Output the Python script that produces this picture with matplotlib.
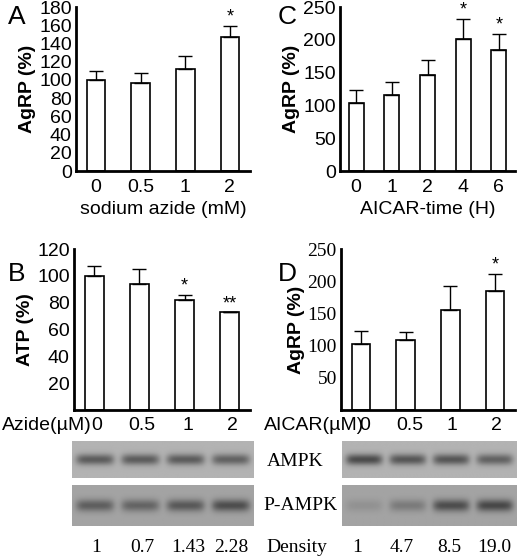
import matplotlib
matplotlib.use("Agg")
import matplotlib.pyplot as plt
import numpy as np

W, H = 520, 558
# data
a_cats = ["0", "0.5", "1", "2"]; a_vals = [100, 97, 112, 147]; a_err = [10, 11, 14, 12]; a_sig = ["", "", "", "*"]
c_cats = ["0", "1", "2", "4", "6"]; c_vals = [103, 116, 146, 201, 185]; c_err = [20, 20, 23, 31, 24]; c_sig = ["", "", "", "*", "*"]
b_cats = ["0", "0.5", "1", "2"]; b_vals = [100, 94, 82, 73]; b_err = [7, 11, 4, 0]; b_sig = ["", "", "*", "**"]
d_cats = ["0", "0.5", "1", "2"]; d_vals = [102, 108, 155, 185]; d_err = [20, 13, 38, 26]; d_sig = ["", "", "", "*"]
b_density = ["1", "0.7", "1.43", "2.28"]
d_density = ["1", "4.7", "8.5", "19.0"]
b_ampk = [0.75, 0.75, 0.75, 0.7]; b_pampk = [0.6, 0.55, 0.65, 0.75]
d_ampk = [0.9, 0.8, 0.8, 0.7]; d_pampk = [0.15, 0.35, 0.75, 0.8]

fig = plt.figure(figsize=(W/100, H/100), dpi=100)
SANS = "Liberation Sans"; SERIF = "Liberation Serif"
FS = 14

def ax_px(x0, y0, x1, y1):
    return fig.add_axes([x0/W, 1-y1/H, (x1-x0)/W, (y1-y0)/H])

def bars(ax, cats, vals, err, sig, ylim, ticks, font, ylabel, sigoff, xlabels=True):
    x = np.arange(len(cats))
    ax.bar(x, vals, width=0.42, color="white", edgecolor="black", linewidth=1.2)
    ax.errorbar(x, vals, yerr=[np.zeros(len(err)), err], fmt="none", ecolor="black", elinewidth=1, capsize=5, capthick=1)
    for xi, v, e, s in zip(x, vals, err, sig):
        if s:
            ax.text(xi, v + e + sigoff, s, ha="center", va="bottom", fontsize=13, family=SANS)
    ax.set_xlim(-0.45, len(cats) - 0.55)
    ax.set_ylim(*ylim)
    ax.set_yticks(ticks)
    ax.set_yticklabels([str(t) for t in ticks], fontsize=FS, family=font)
    for s in ["top", "right"]:
        ax.spines[s].set_visible(False)
    ax.spines["left"].set_linewidth(2); ax.spines["bottom"].set_linewidth(2)
    ax.tick_params(axis="y", length=0, pad=3)
    ax.tick_params(axis="x", length=0, pad=6)
    if xlabels:
        ax.set_xticks(x); ax.set_xticklabels(cats, fontsize=FS, family=SANS)
    else:
        ax.set_xticks([])
    ax.set_ylabel(ylabel, fontsize=14, fontweight="bold", family=SANS, labelpad=2)

axA = ax_px(76, 7, 250, 171)
bars(axA, a_cats, a_vals, a_err, a_sig, (0, 180), list(range(0, 181, 20)), SANS, "AgRP (%)", 1)
axA.set_xlabel("sodium azide (mM)", fontsize=FS, family=SANS, labelpad=3)

axC = ax_px(340, 7, 515, 171)
bars(axC, c_cats, c_vals, c_err, c_sig, (0, 250), list(range(0, 251, 50)), SANS, "AgRP (%)", 1)
axC.set_xlabel("AICAR-time (H)", fontsize=FS, family=SANS, labelpad=3)

axB = ax_px(74, 249, 250, 410)
bars(axB, b_cats, b_vals, b_err, b_sig, (0, 120), list(range(20, 121, 20)), SANS, "ATP (%)", 0, xlabels=False)

axD = ax_px(341, 249, 515, 410)
bars(axD, d_cats, d_vals, d_err, d_sig, (0, 250), list(range(50, 251, 50)), SERIF, "AgRP (%)", 1, xlabels=False)

def ftext(x, y, s, **kw):
    fig.text(x/W, 1-y/H, s, va="center", **kw)

for lab, (x, y) in zip("ACBD", [(8, 17), (278, 17), (8, 274), (278, 274)]):
    ftext(x, y, lab, fontsize=19, family=SANS)

ftext(2, 425, "Azide(\u00b5M)", fontsize=FS, family=SANS)
for s, x in zip(b_cats, [97, 142, 188, 232]):
    ftext(x, 425, s, fontsize=FS, family=SANS, ha="center")
ftext(264, 425, "AICAR(\u00b5M)", fontsize=FS, family=SANS)
for s, x in zip(d_cats, [365, 410, 452, 496]):
    ftext(x, 425, s, fontsize=FS, family=SANS, ha="center")

def blot(x0, y0, x1, y1, levels, bg):
    ax = ax_px(x0, y0, x1, y1)
    nx, ny = 200, 40
    xs = np.linspace(0, len(levels), nx); ys = np.linspace(-1, 1, ny)
    img = np.full((ny, nx), bg)
    for i, lv in enumerate(levels):
        bx = np.exp(-((xs - (i + 0.5)) / 0.42) ** 6)
        by = np.exp(-(ys / 0.3) ** 2)
        img -= lv * 0.45 * np.outer(by, bx)
    ax.imshow(img, cmap="gray", vmin=0, vmax=1, aspect="auto", interpolation="bilinear")
    ax.set_axis_off()

blot(72, 441, 254, 478, b_ampk, 0.7)
blot(72, 485, 254, 526, b_pampk, 0.64)
blot(342, 441, 517, 478, d_ampk, 0.7)
blot(342, 485, 517, 526, d_pampk, 0.64)
ftext(295, 462, "AMPK", fontsize=FS, family=SERIF, ha="center")
ftext(300, 506, "P-AMPK", fontsize=FS, family=SERIF, ha="center")

for s, x in zip(b_density, [96, 142, 188, 231]):
    ftext(x, 547, s, fontsize=FS, family=SERIF, ha="center")
ftext(297, 547, "Density", fontsize=FS, family=SERIF, ha="center")
for s, x in zip(d_density, [357, 402, 449, 494]):
    ftext(x, 547, s, fontsize=FS, family=SERIF, ha="center")

fig.savefig("out.png", dpi=100)
